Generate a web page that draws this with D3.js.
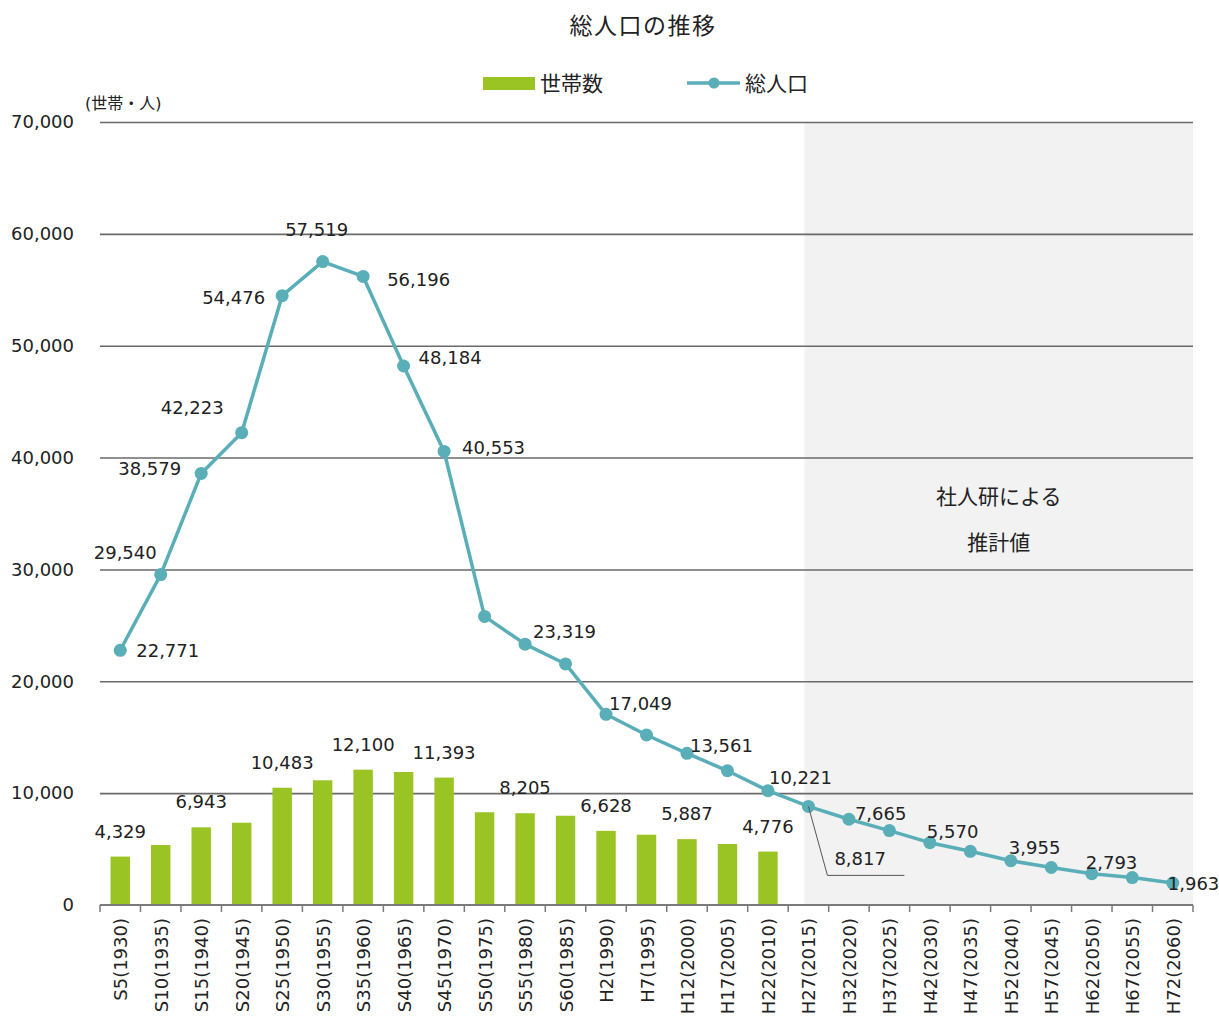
<!DOCTYPE html>
<html>
<head>
<meta charset="utf-8">
<script src="https://cdn.jsdelivr.net/npm/d3@7"></script>
<style>
  html, body { margin: 0; padding: 0; background: #fff; }
  svg { display: block; }
  text { font-family: "DejaVu Sans", "Noto Sans CJK JP", sans-serif; fill: #222; }
  .jp { font-family: "Noto Sans CJK JP", sans-serif; }
</style>
</head>
<body>
<svg id="chart" width="1219" height="1018"></svg>
<script>
// ---------- data ----------
const categories = ["S5(1930)","S10(1935)","S15(1940)","S20(1945)","S25(1950)","S30(1955)","S35(1960)","S40(1965)","S45(1970)","S50(1975)","S55(1980)","S60(1985)","H2(1990)","H7(1995)","H12(2000)","H17(2005)","H22(2010)","H27(2015)","H32(2020)","H37(2025)","H42(2030)","H47(2035)","H52(2040)","H57(2045)","H62(2050)","H67(2055)","H72(2060)"];
const households = [4329, 5360, 6943, 7357, 10483, 11150, 12100, 11890, 11393, 8290, 8205, 7980, 6628, 6285, 5887, 5450, 4776, null, null, null, null, null, null, null, null, null, null];
const population = [22771, 29540, 38579, 42223, 54476, 57519, 56196, 48184, 40553, 25800, 23319, 21550, 17049, 15200, 13561, 12000, 10221, 8817, 7665, 6650, 5570, 4800, 3955, 3350, 2793, 2450, 1963];
const householdLabelIdx = [0, 2, 4, 6, 8, 10, 12, 14, 16];
const yTicks = [0, 10000, 20000, 30000, 40000, 50000, 60000, 70000];
const seriesNames = ["世帯数", "総人口"];
const titleText = "総人口の推移";
const unitText = "(世帯・人)";
const projectionText = ["社人研による", "推計値"];
const projectionStart = "H27(2015)";

// ---------- label placement (style, not data) ----------
// [anchor, dx, dy(center)] relative to the marker
const popLabelPos = {
  0: ["start", 16, 0], 1: ["end", -4, -22], 2: ["end", -20, -5], 3: ["end", -18, -25],
  4: ["end", -17, 2], 5: ["middle", -6, -32], 6: ["start", 24, 3], 7: ["start", 15, -9],
  8: ["start", 18, -4], 10: ["start", 8, -13], 12: ["start", 3, -11], 14: ["start", 3, -8],
  16: ["start", 1, -13], 17: ["leader", 26, 52], 18: ["start", 6, -6], 20: ["start", -3, -11],
  22: ["start", -2, -13], 24: ["start", -6, -11], 26: ["start", -5, 0]
};

// ---------- layout ----------
const svg = d3.select("#chart");
const margin = { left: 100, right: 1193, top: 122, bottom: 905 };
const green = "#99c424", teal = "#5aaeb8", grid = "#6a6a6a";
const fmt = d3.format(",");

const x = d3.scaleBand().domain(categories).range([margin.left, margin.right]).paddingInner(0).paddingOuter(0);
const y = d3.scaleLinear().domain([0, 70000]).range([margin.bottom, margin.top]);
const bw = x.bandwidth();
const cx = c => x(c) + bw / 2;

// projection shading
svg.append("rect")
  .attr("x", cx(projectionStart) - 4)
  .attr("y", y(70000))
  .attr("width", margin.right - (cx(projectionStart) - 4))
  .attr("height", y(0) - y(70000))
  .attr("fill", "#f2f2f2");

// gridlines + y tick labels
const yAxis = svg.append("g")
  .attr("transform", `translate(${margin.left},0)`)
  .call(d3.axisLeft(y).tickValues(yTicks).tickSize(-(margin.right - margin.left)).tickFormat(fmt).tickPadding(26));
yAxis.select(".domain").remove();
yAxis.selectAll(".tick line").attr("stroke", grid).attr("stroke-width", 1.6)
  .filter(d => d === 0).remove();
yAxis.selectAll(".tick text").attr("font-size", 18).attr("fill", "#222")
  .attr("font-family", "DejaVu Sans");

// bars
svg.append("g").selectAll("rect")
  .data(categories.map((c, i) => ({ c, v: households[i] })).filter(d => d.v != null))
  .join("rect")
  .attr("x", d => cx(d.c) - bw * 0.24)
  .attr("width", bw * 0.48)
  .attr("y", d => y(d.v))
  .attr("height", d => y(0) - y(d.v))
  .attr("fill", green);

// bar labels
svg.append("g").selectAll("text")
  .data(householdLabelIdx)
  .join("text")
  .attr("x", i => cx(categories[i]))
  .attr("y", i => y(households[i]) - 19)
  .attr("text-anchor", "middle")
  .attr("font-size", 18)
  .text(i => fmt(households[i]));

// x axis line and boundary ticks
svg.append("line")
  .attr("x1", margin.left).attr("x2", margin.right)
  .attr("y1", y(0)).attr("y2", y(0))
  .attr("stroke", "#7a7a7a").attr("stroke-width", 2);
const bounds = categories.map(c => x(c)).concat([x(categories[categories.length - 1]) + bw]);
svg.append("g").selectAll("line")
  .data(bounds).join("line")
  .attr("x1", d => d).attr("x2", d => d)
  .attr("y1", y(0)).attr("y2", y(0) + 7)
  .attr("stroke", "#7a7a7a").attr("stroke-width", 1.5);

// x labels (rotated)
svg.append("g").selectAll("text")
  .data(categories).join("text")
  .attr("transform", c => `translate(${cx(c) + 7},${y(0) + 13}) rotate(-90)`)
  .attr("text-anchor", "end")
  .attr("font-size", 18)
  .text(c => c);

// population line
const line = d3.line().x((d, i) => cx(categories[i])).y(d => y(d));
svg.append("path")
  .datum(population)
  .attr("d", line)
  .attr("fill", "none")
  .attr("stroke", teal)
  .attr("stroke-width", 3.5)
  .attr("stroke-linejoin", "round");
svg.append("g").selectAll("circle")
  .data(population).join("circle")
  .attr("cx", (d, i) => cx(categories[i]))
  .attr("cy", d => y(d))
  .attr("r", 6.5)
  .attr("fill", teal);

// population labels
const labG = svg.append("g");
Object.keys(popLabelPos).map(Number).forEach(i => {
  const [anchor, dx, dy] = popLabelPos[i];
  const px = cx(categories[i]), py = y(population[i]);
  if (anchor === "leader") {
    labG.append("polyline")
      .attr("points", `${px},${py} ${px + 19},${py + 69} ${px + 96},${py + 69}`)
      .attr("fill", "none").attr("stroke", "#555").attr("stroke-width", 1);
    labG.append("text").attr("x", px + dx).attr("y", py + dy + 6.5)
      .attr("text-anchor", "start").attr("font-size", 18).text(fmt(population[i]));
  } else {
    labG.append("text").attr("x", px + dx).attr("y", py + dy + 6.5)
      .attr("text-anchor", anchor).attr("font-size", 18).text(fmt(population[i]));
  }
});

// projection note
const noteX = (cx(projectionStart) - 4 + margin.right) / 2;
svg.append("text").attr("class", "jp").attr("x", noteX).attr("y", 504)
  .attr("text-anchor", "middle").attr("font-size", 21).text(projectionText[0]);
svg.append("text").attr("class", "jp").attr("x", noteX).attr("y", 550)
  .attr("text-anchor", "middle").attr("font-size", 21).text(projectionText[1]);

// title
svg.append("text").attr("class", "jp").attr("x", 643).attr("y", 34)
  .attr("text-anchor", "middle").attr("font-size", 23).attr("letter-spacing", 1.5).text(titleText);

// unit label
svg.append("text").attr("x", 85).attr("y", 109)
  .attr("font-size", 16).text(unitText);

// legend
const lg = svg.append("g");
lg.append("rect").attr("x", 483).attr("y", 77).attr("width", 52).attr("height", 13).attr("fill", green);
lg.append("text").attr("class", "jp").attr("x", 540).attr("y", 91).attr("font-size", 21).text(seriesNames[0]);
lg.append("line").attr("x1", 687).attr("x2", 740).attr("y1", 83).attr("y2", 83)
  .attr("stroke", teal).attr("stroke-width", 3.5);
lg.append("circle").attr("cx", 714).attr("cy", 83).attr("r", 5.5).attr("fill", teal);
lg.append("text").attr("class", "jp").attr("x", 745).attr("y", 91).attr("font-size", 21).text(seriesNames[1]);
</script>
</body>
</html>
